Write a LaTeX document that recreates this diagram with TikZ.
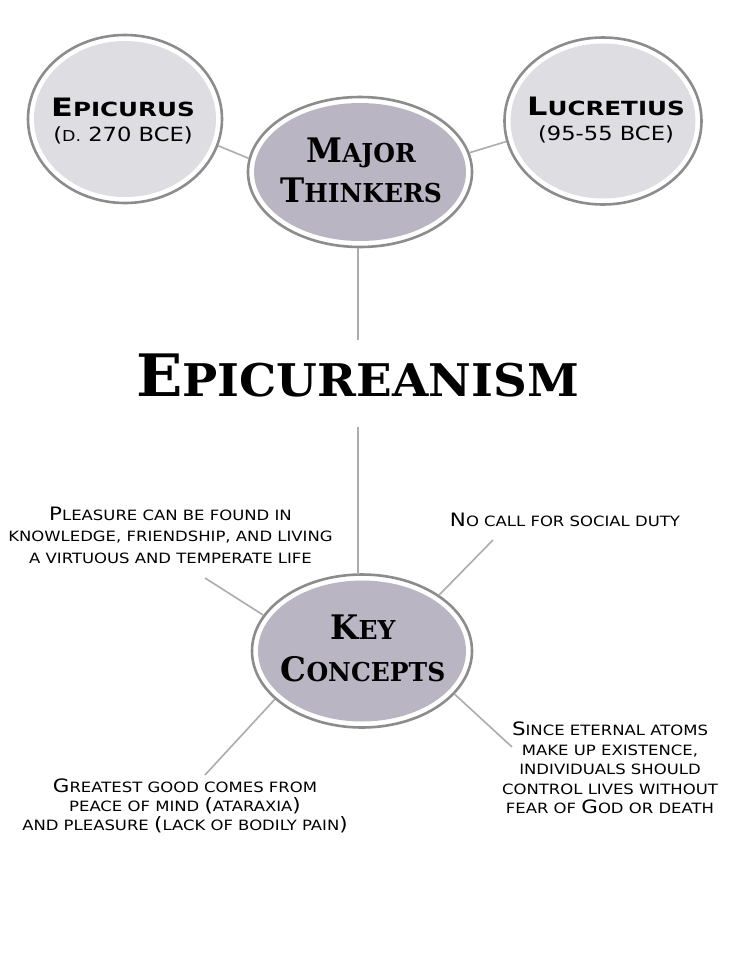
\documentclass[tikz,border=0pt]{standalone}
\usepackage{fontspec}
\setmainfont{DejaVu Sans}
\newfontfamily\labfont[FakeStretch=1.16]{DejaVu Sans}
\newfontfamily\namefont[FakeStretch=1.26]{DejaVu Sans}
\newfontfamily\datefont[FakeStretch=1.16]{DejaVu Sans}
\newfontfamily\hubfont[FakeStretch=0.96]{DejaVu Serif}
\newfontfamily\titlefont[FakeStretch=1.04]{DejaVu Serif}
\usetikzlibrary{shapes.geometric}
\makeatletter
\newcommand\Cp[1]{{\edef\cptmp{\strip@pt\dimexpr\f@size pt*13/10\relax}\fontsize{\cptmp}{\cptmp}\selectfont #1}}
\newcommand\Sm[1]{{\edef\cptmp{\strip@pt\dimexpr\f@size pt*77/100\relax}\fontsize{\cptmp}{\cptmp}\selectfont #1}}
\makeatother
\definecolor{ringgray}{RGB}{140,140,140}
\definecolor{thinkfill}{RGB}{222,222,226}
\definecolor{hubfill}{RGB}{185,181,194}
\definecolor{linegray}{RGB}{172,172,172}
\begin{document}
\begin{tikzpicture}[x=1pt,y=-1pt,
  ringout/.style={ellipse, draw=ringgray, line width=2.6pt, fill=white, inner sep=0pt},
  thinker/.style={ellipse, fill=thinkfill, inner sep=0pt},
  hub/.style={ellipse, fill=hubfill, inner sep=0pt},
  nametext/.style={align=center, inner sep=0pt, font=\fontsize{19.5}{25}\selectfont},
  hubtext/.style={align=center, inner sep=0pt, font=\hubfont\bfseries\fontsize{26}{40}\selectfont},
  lab/.style={align=center, inner sep=0pt, font=\labfont\fontsize{14.2}{21}\selectfont},
  spoke/.style={draw=linegray, line width=1.6pt}]
\fill[white] (0,0) rectangle (736,954);
\path[use as bounding box] (0,0) rectangle (736,954);

% thinker circles
\node[ringout, minimum width=194pt, minimum height=168pt] (ep) at (125,119) {};
\node[thinker, minimum width=182pt, minimum height=156pt] (epin) at (ep) {};
\node[nametext] (eptext) at (123,121) {{\namefont\bfseries\Cp{E}PICURUS}\\{\datefont(\Sm{D.} 270 BCE)}};

\node[ringout, minimum width=197pt, minimum height=167pt] (lu) at (603,121) {};
\node[thinker, minimum width=185pt, minimum height=155pt] (luin) at (lu) {};
\node[nametext] (lutext) at (606,120) {{\namefont\bfseries\Cp{L}UCRETIUS}\\{\datefont(95-55 BCE)}};

% hubs
\node[ringout, minimum width=224pt, minimum height=150pt] (mt) at (360,172) {};
\node[hub, minimum width=212pt, minimum height=138pt] (mtin) at (mt) {};
\node[hubtext] (mttext) at (361,170) {\Cp{M}AJOR\\\Cp{T}HINKERS};

\node[ringout, minimum width=220pt, minimum height=153pt] (kc) at (362,651) {};
\node[hub, minimum width=208pt, minimum height=141pt] (kcin) at (kc) {};
\node[hubtext, font=\hubfont\bfseries\fontsize{26}{42}\selectfont] (kctext) at (363,648) {\Cp{K}EY\\\Cp{C}ONCEPTS};

% title
\node[inner sep=0pt, font=\titlefont\bfseries\fontsize{45}{50}\selectfont] (title) at (357.5,375) {\Cp{E}PICUREANISM};

% labels
\node[lab, font=\labfont\fontsize{14.2}{21.5}\selectfont] (l1) at (170.5,535) {\Cp{P}LEASURE CAN BE FOUND IN\\KNOWLEDGE, FRIENDSHIP, AND LIVING\\A VIRTUOUS AND TEMPERATE LIFE};
\node[lab] (l2) at (565,519.5) {\Cp{N}O CALL FOR SOCIAL DUTY};
\node[lab, font=\labfont\fontsize{14.2}{18.8}\selectfont] (l3) at (185,806) {\Cp{G}REATEST GOOD COMES FROM\\PEACE OF MIND \Cp{(}ATARAXIA\Cp{)}\\AND PLEASURE \Cp{(}LACK OF BODILY PAIN\Cp{)}};
\node[lab, font=\labfont\fontsize{14.2}{19.5}\selectfont] (l4) at (610,768) {\Cp{S}INCE ETERNAL ATOMS\\MAKE UP EXISTENCE,\\INDIVIDUALS SHOULD\\CONTROL LIVES WITHOUT\\FEAR OF \Cp{G}OD OR DEATH};

% connector ends
\coordinate (t1) at (358,340);
\coordinate (t2) at (358,427);
\coordinate (e1) at (205,578);
\coordinate (e2) at (493,540);
\coordinate (e3) at (205,775);
\coordinate (e4) at (512,747);

% connectors
\draw[spoke] (ep.344) -- (mt.173);
\draw[spoke] (lu.192) -- (mt.10);
\draw[spoke] (t1 |- mt.south) -- (t1);
\draw[spoke] (t2) -- (t2 |- kc.north);
\draw[spoke] (kc.160) -- (e1);
\draw[spoke] (kc.36) -- (e2);
\draw[spoke] (kc.209) -- (e3);
\draw[spoke] (kc.335) -- (e4);
\end{tikzpicture}
\end{document}
